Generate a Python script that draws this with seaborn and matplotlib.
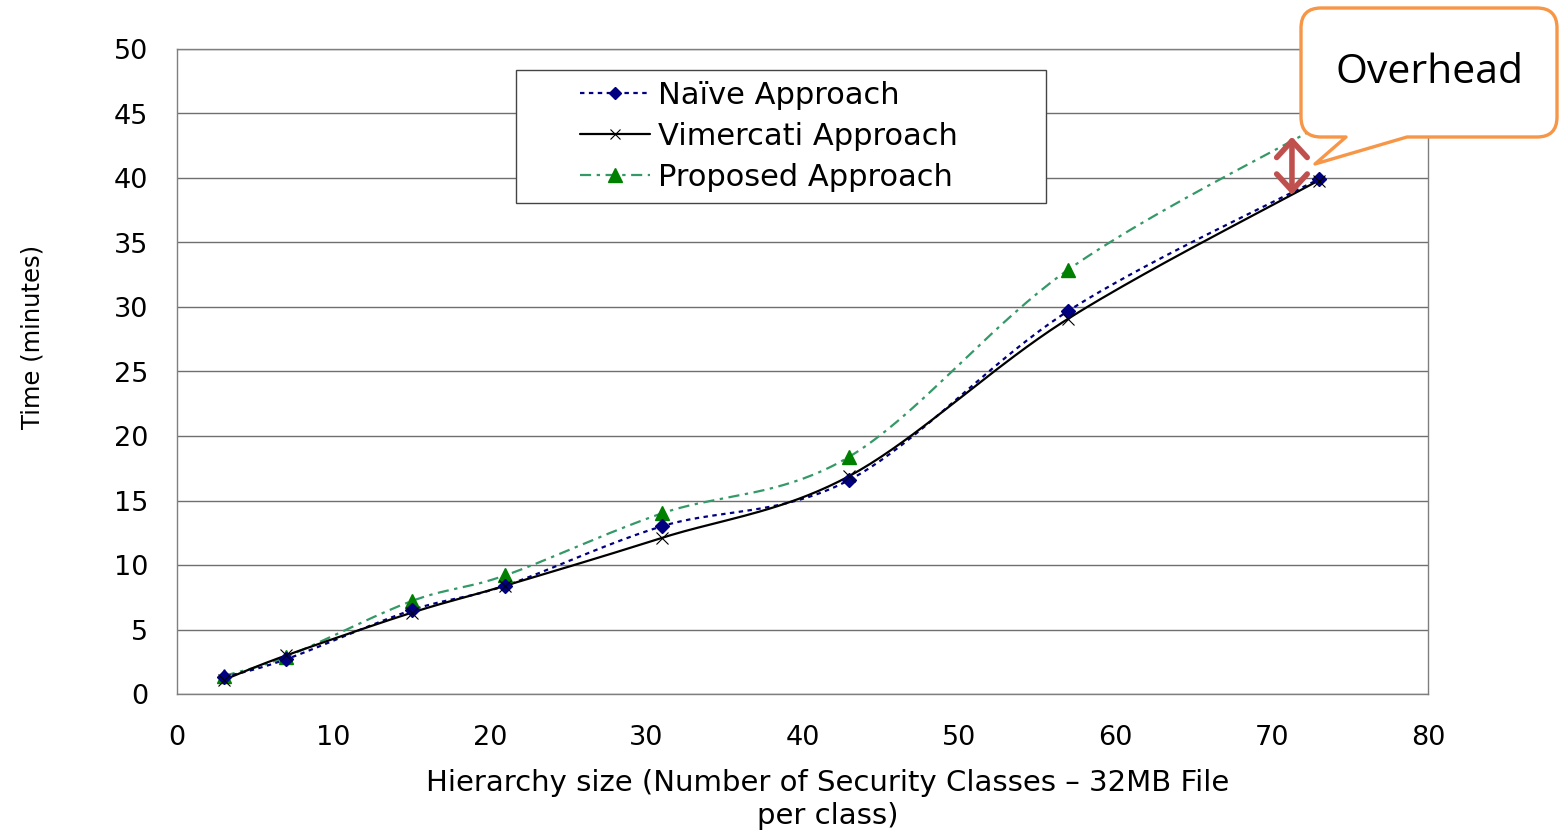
import numpy as np
import pandas as pd
import seaborn as sns
import matplotlib
matplotlib.use("Agg")
import matplotlib.pyplot as plt
from matplotlib.lines import Line2D
from matplotlib.path import Path
from matplotlib.patches import PathPatch, FancyArrowPatch
from matplotlib.legend_handler import HandlerLine2D

# ---- data ----
hierarchy_size = [3, 7, 15, 21, 31, 43, 57, 73]
naive = [1.3, 2.7, 6.5, 8.4, 13.0, 16.6, 29.7, 39.9]
vimercati = [1.1, 3.0, 6.3, 8.4, 12.1, 16.9, 29.1, 39.8]
proposed = [1.4, 2.9, 7.2, 9.2, 14.0, 18.4, 32.9, 44.0]
series_names = ["Naïve Approach", "Vimercati Approach", "Proposed Approach"]
x_ticks = [0, 10, 20, 30, 40, 50, 60, 70, 80]
y_ticks = [0, 5, 10, 15, 20, 25, 30, 35, 40, 45, 50]

sns.set_style("white")
plt.rcParams["font.family"] = ["DejaVu Sans"]
plt.rcParams.update({"text.color": "black", "axes.labelcolor": "black",
                     "xtick.color": "black", "ytick.color": "black"})

W, H = 1562, 830
fig = plt.figure(figsize=(W / 100, H / 100), dpi=100)
ax = fig.add_axes([177 / W, 1 - 694 / H, (1428 - 177) / W, (694 - 49) / H])

SX, SY = 15.64, 12.9  # approx px per unit, for screen-space smoothing


def smooth(xs, ys, n=40):
    P = np.column_stack([np.asarray(xs, float) * SX, np.asarray(ys, float) * SY])
    out = []
    for i in range(len(P) - 1):
        p0 = P[max(i - 1, 0)]
        p1 = P[i]
        p2 = P[i + 1]
        p3 = P[min(i + 2, len(P) - 1)]
        c1 = p1 + (p2 - p0) / 6
        c2 = p2 - (p3 - p1) / 6
        t = np.linspace(0, 1, n)[:, None]
        seg = (1 - t) ** 3 * p1 + 3 * (1 - t) ** 2 * t * c1 + 3 * (1 - t) * t ** 2 * c2 + t ** 3 * p2
        out.append(seg if i == 0 else seg[1:])
    out = np.vstack(out)
    return out[:, 0] / SX, out[:, 1] / SY


navy = "#000080"
green_line = "#339966"
green_mk = "#008000"

styles = {
    "Naïve Approach": dict(color=navy, ls=(0, (2, 2)), lw=1.6, marker="D", mc=navy, ms=7, mew=1),
    "Vimercati Approach": dict(color="black", ls="-", lw=1.6, marker="x", mc="black", ms=8, mew=0.8),
    "Proposed Approach": dict(color=green_line, ls=(0, (5, 2.5, 1.5, 2.5)), lw=1.6, marker="^", mc=green_mk, ms=10.5, mew=1),
}
values = {"Naïve Approach": naive, "Vimercati Approach": vimercati, "Proposed Approach": proposed}

order = ["Proposed Approach", "Naïve Approach", "Vimercati Approach"]
for name in order:
    st = styles[name]
    sx_, sy_ = smooth(hierarchy_size, values[name])
    d = pd.DataFrame({"x": sx_, "y": sy_})
    sns.lineplot(data=d, x="x", y="y", sort=False, estimator=None, ax=ax,
                 color=st["color"], linestyle=st["ls"], linewidth=st["lw"], legend=False)
for name in order:
    st = styles[name]
    ax.plot(hierarchy_size, values[name], linestyle="none", marker=st["marker"],
            color=st["mc"], markersize=st["ms"], markeredgewidth=st["mew"], zorder=5)

ax.set_xlim(0, 80)
ax.set_ylim(0, 50)
ax.set_xticks(x_ticks)
ax.set_yticks(y_ticks)
ax.yaxis.grid(True, color="#6f6f6f", lw=1.0)
ax.set_axisbelow(True)
for s in ax.spines.values():
    s.set_color("#7f7f7f")
    s.set_linewidth(1.0)
ax.tick_params(axis="both", direction="out", width=1, color="#555555", labelsize=19.5)
ax.tick_params(axis="x", length=6.5, pad=16)
ax.tick_params(axis="y", length=8.5, pad=12)

ax.set_ylabel("Time (minutes)", fontsize=17.5)
ax.yaxis.set_label_coords(-0.106, 0.553)
ax.set_xlabel("Hierarchy size (Number of Security Classes \u2013 32MB File\nper class)", fontsize=21,
              linespacing=1.2)
ax.xaxis.set_label_coords(0.52, -0.117)

FS = 22
PX = FS * 100 / 72
handles = []
for name in series_names:
    st = styles[name]
    handles.append(Line2D([], [], color=st["color"], linestyle=st["ls"], linewidth=st["lw"],
                          marker=st["marker"], markerfacecolor=st["mc"], markeredgecolor=st["mc"],
                          markersize=st["ms"] * 0.9, markeredgewidth=st["mew"]))
hl = HandlerLine2D(xpad=54 / PX)
leg = ax.legend(handles, series_names, loc="upper left",
                bbox_to_anchor=(0.271, 0.772, 0.4237, 0.195), mode="expand",
                fontsize=FS, frameon=True, fancybox=False, framealpha=1, edgecolor="#444444",
                handlelength=124 / PX, handletextpad=0.26, labelspacing=0.40,
                borderpad=0.34, borderaxespad=0, handler_map={Line2D: hl})
leg.get_frame().set_linewidth(1.0)
leg.set_zorder(10)

# ---- overhead arrow ----
arr = FancyArrowPatch((71.3, 38.7), (71.3, 43.2), arrowstyle="<->,head_length=0.6,head_width=0.55",
                      mutation_scale=20, lw=4, color="#c0504d", shrinkA=0, shrinkB=0, zorder=8,
                      clip_on=False)
ax.add_patch(arr)

# ---- callout ----
def fp(x, y):
    return (x / W, 1 - y / H)

x0, x1, yt, yb, r = 1301, 1557, 8, 137, 20
verts = [fp(x0 + r, yt), fp(x1 - r, yt), fp(x1, yt), fp(x1, yt + r), fp(x1, yb - r), fp(x1, yb),
         fp(x1 - r, yb), fp(1407, yb), fp(1315, 164), fp(1346, yb), fp(x0 + r, yb), fp(x0, yb),
         fp(x0, yb - r), fp(x0, yt + r), fp(x0, yt), fp(x0 + r, yt), fp(x0 + r, yt)]
codes = [Path.MOVETO, Path.LINETO, Path.CURVE3, Path.CURVE3, Path.LINETO, Path.CURVE3, Path.CURVE3,
         Path.LINETO, Path.LINETO, Path.LINETO, Path.LINETO, Path.CURVE3, Path.CURVE3, Path.LINETO,
         Path.CURVE3, Path.CURVE3, Path.CLOSEPOLY]
callout = PathPatch(Path(verts, codes), facecolor="white", edgecolor="#f79646", lw=2.4,
                    transform=fig.transFigure, zorder=20, joinstyle="round")
fig.add_artist(callout)
fig.text(1430 / W, 1 - 73 / H, "Overhead", ha="center", va="center", fontsize=29.5,
         color="black", family=["Open Sans", "DejaVu Sans"], zorder=21)

fig.savefig("out.png", dpi=100)
